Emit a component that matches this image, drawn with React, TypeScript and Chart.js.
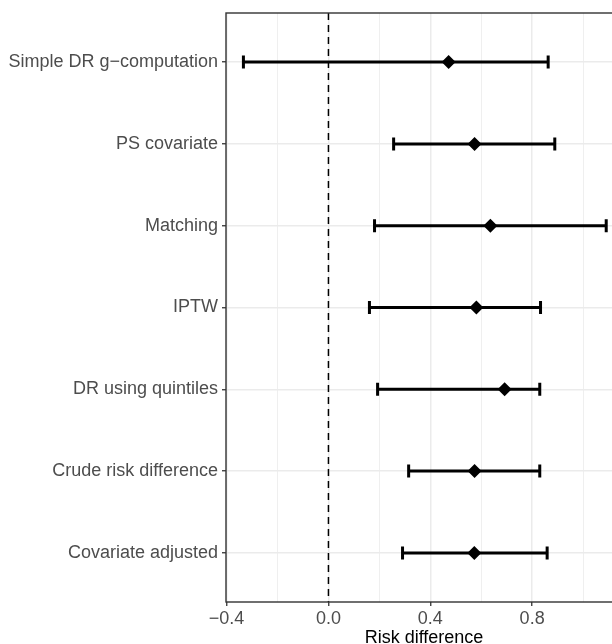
import React, { useEffect, useRef } from "react";
import { Chart, registerables } from "chart.js";

Chart.register(...registerables);

const categories = [
  "Simple DR g\u2212computation",
  "PS covariate",
  "Matching",
  "IPTW",
  "DR using quintiles",
  "Crude risk difference",
  "Covariate adjusted",
];
const estimate = [0.472, 0.574, 0.636, 0.581, 0.692, 0.574, 0.573];
const lower = [-0.334, 0.256, 0.181, 0.161, 0.193, 0.315, 0.291];
const upper = [0.863, 0.889, 1.091, 0.833, 0.83, 0.83, 0.859];

const xTickValues = [-0.4, -0.2, 0, 0.2, 0.4, 0.6, 0.8, 1.0];
const xMajorLabels: Record<string, string> = {
  "-0.4": "\u22120.4",
  "0": "0.0",
  "0.4": "0.4",
  "0.8": "0.8",
};
const refLine = 0;

const FONT = "'Liberation Sans', Arial, Helvetica, sans-serif";
const CANVAS_W = 622;

export default function App() {
  const ref = useRef<HTMLCanvasElement | null>(null);

  useEffect(() => {
    const canvas = ref.current;
    if (!canvas) return;

    const isMajor = (v: number) => Object.prototype.hasOwnProperty.call(xMajorLabels, String(Math.round(v * 10) / 10));

    const forestPlugin = {
      id: "forest",
      beforeDatasetsDraw(chart: any) {
        const { ctx, chartArea, scales } = chart;
        const xs = scales.x;
        const ys = scales.y;
        ctx.save();
        const x0 = xs.getPixelForValue(refLine);
        ctx.strokeStyle = "#000";
        ctx.lineWidth = 1.5;
        ctx.setLineDash([7, 5]);
        ctx.beginPath();
        ctx.moveTo(x0, chartArea.top);
        ctx.lineTo(x0, chartArea.bottom);
        ctx.stroke();
        ctx.setLineDash([]);
        ctx.lineWidth = 3;
        ctx.strokeStyle = "#000";
        categories.forEach((_, i) => {
          const y = ys.getPixelForValue(i + 1);
          const xl = xs.getPixelForValue(lower[i]);
          const xu = xs.getPixelForValue(upper[i]);
          ctx.beginPath();
          ctx.moveTo(xl, y);
          ctx.lineTo(xu, y);
          ctx.moveTo(xl, y - 6.5);
          ctx.lineTo(xl, y + 6.5);
          ctx.moveTo(xu, y - 6.5);
          ctx.lineTo(xu, y + 6.5);
          ctx.stroke();
        });
        ctx.restore();
      },
      afterDraw(chart: any) {
        const { ctx, chartArea } = chart;
        ctx.save();
        ctx.strokeStyle = "#333333";
        ctx.lineWidth = 1.4;
        ctx.strokeRect(chartArea.left, chartArea.top, chartArea.right - chartArea.left, chartArea.bottom - chartArea.top);
        ctx.restore();
      },
    };

    const chart = new Chart(canvas, {
      type: "scatter",
      data: {
        datasets: [
          {
            data: estimate.map((v, i) => ({ x: v, y: i + 1 })),
            pointStyle: "rectRot",
            pointRadius: 7,
            pointBackgroundColor: "#000",
            pointBorderColor: "#000",
            pointBorderWidth: 0,
          },
        ],
      },
      options: {
        responsive: false,
        animation: false,
        layout: { autoPadding: false, padding: { top: 13, right: 0, bottom: 0, left: 0 } },
        plugins: { legend: { display: false }, tooltip: { enabled: false }, title: { display: false } },
        scales: {
          x: {
            type: "linear",
            min: -0.4024,
            max: 1.153,
            afterBuildTicks: (scale: any) => {
              scale.ticks = xTickValues.map((v) => ({ value: v }));
            },
            afterFit: (scale: any) => {
              scale.height = 42;
              scale.paddingRight = 0;
              scale.paddingLeft = 0;
            },
            border: { display: false },
            grid: {
              color: "#EBEBEB",
              lineWidth: (c: any) => (isMajor(c.tick.value) ? 1.5 : 0.8),
              tickColor: (c: any) => (isMajor(c.tick.value) ? "#333333" : "rgba(0,0,0,0)"),
              tickWidth: 1.3,
              tickLength: 4,
              drawTicks: true,
            },
            ticks: {
              autoSkip: false,
              maxRotation: 0,
              padding: 2,
              color: "#4D4D4D",
              font: { family: FONT, size: 18 },
              callback: (v: any) => xMajorLabels[String(Math.round(Number(v) * 10) / 10)] ?? "",
            },
            title: {
              display: true,
              text: "Risk difference",
              color: "#000",
              font: { family: FONT, size: 18, lineHeight: 1 },
              padding: { top: 0, bottom: -3 },
            },
          },
          y: {
            type: "linear",
            reverse: true,
            min: 0.4,
            max: 7.6,
            afterBuildTicks: (scale: any) => {
              scale.ticks = categories.map((_, i) => ({ value: i + 1 }));
            },
            afterFit: (scale: any) => {
              scale.width = 226;
              scale.paddingTop = 0;
              scale.paddingBottom = 0;
            },
            border: { display: false },
            grid: {
              color: "#EBEBEB",
              lineWidth: 1.5,
              tickColor: "#333333",
              tickWidth: 1.3,
              tickLength: 4,
            },
            ticks: {
              autoSkip: false,
              padding: 4,
              color: "#4D4D4D",
              font: { family: FONT, size: 18 },
              callback: (v: any) => categories[Math.round(Number(v)) - 1] ?? "",
            },
          },
        },
      },
      plugins: [forestPlugin],
    } as any);

    return () => chart.destroy();
  }, []);

  return (
    <div style={{ position: "fixed", left: 0, top: 0, width: 612, height: 644, overflow: "hidden", background: "#fff" }}>
      <canvas ref={ref} width={CANVAS_W} height={644} style={{ display: "block", width: CANVAS_W, height: 644 }} />
    </div>
  );
}
